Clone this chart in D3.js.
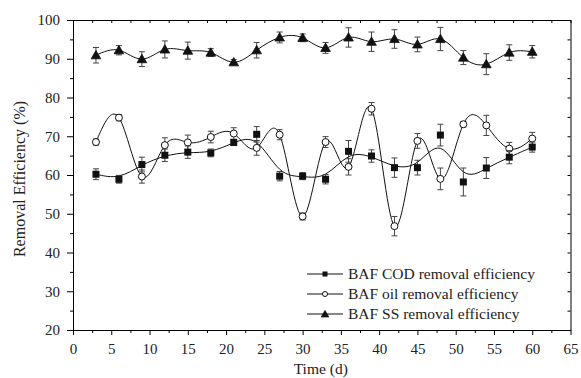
<!DOCTYPE html>
<html>
<head>
  <meta charset="UTF-8">
  <title>BAF removal efficiency</title>
  <script src="https://d3js.org/d3.v7.min.js"></script>
  <style>
    body { margin: 0; background: #fff; }
    svg text, .axis { font-family: "Liberation Serif", "Times New Roman", serif; }
    .axis path, .axis line { stroke: #000; stroke-width: 1; }
    .axis text { font-size: 15px; fill: #222; }
    .curve { fill: none; stroke: #111; stroke-width: 1; }
    .err { stroke: #444; stroke-width: 1; }
  </style>
</head>
<body>
  <div id="chart"></div>
  <script>
    const days = [3, 6, 9, 12, 15, 18, 21, 24, 27, 30, 33, 36, 39, 42, 45, 48, 51, 54, 57, 60];
    const codValues = [60.2, 58.9, 62.7, 65.1, 65.9, 65.7, 68.4, 70.5, 59.7, 59.7, 58.9, 66.1, 64.9, 61.9, 61.9, 70.3, 58.2, 61.8, 64.6, 67.2];
    const codErrors = [1.4, 1.0, 1.9, 1.6, 1.6, 1.0, 0.8, 2.0, 1.2, 0.9, 1.2, 2.8, 1.6, 2.5, 1.9, 2.8, 3.6, 2.7, 1.7, 1.3];
    const oilValues = [68.5, 74.8, 59.6, 67.7, 68.4, 69.8, 70.7, 67.0, 70.4, 49.3, 68.5, 62.1, 77.1, 46.8, 68.8, 59.0, 73.1, 72.8, 66.8, 69.4];
    const oilErrors = [0.8, 0.8, 1.7, 1.9, 1.9, 1.5, 1.5, 1.9, 1.3, 0.9, 1.4, 2.1, 1.6, 2.5, 1.9, 2.8, 0.7, 2.6, 1.6, 1.6];
    const ssValues = [90.9, 92.2, 89.9, 92.4, 92.1, 91.6, 89.1, 92.2, 95.5, 95.4, 92.8, 95.5, 94.4, 95.1, 93.7, 95.1, 90.3, 88.6, 91.6, 91.8];
    const ssErrors = [2.0, 1.2, 1.9, 2.2, 2.2, 1.0, 0.7, 2.0, 1.4, 1.0, 1.4, 2.5, 2.5, 2.4, 1.9, 3.0, 1.8, 2.7, 2.0, 1.6];
    const legendLabels = ["BAF COD removal efficiency", "BAF oil removal efficiency", "BAF SS removal efficiency"];

    const W = 581, H = 378;
    const plotLeft = 73, plotRight = 570.5, plotTop = 20, plotBottom = 330;

    const x = d3.scaleLinear().domain([0, 65]).range([plotLeft, plotRight]);
    const y = d3.scaleLinear().domain([20, 100]).range([plotBottom, plotTop]);

    const svg = d3.select("#chart").append("svg")
      .attr("width", W).attr("height", H);

    const series = [
      { name: legendLabels[1], values: oilValues, errors: oilErrors, marker: "circle", curve: d3.curveNatural },
      { name: legendLabels[0], values: codValues, errors: codErrors, marker: "square", curve: d3.curveBasis },
      { name: legendLabels[2], values: ssValues, errors: ssErrors, marker: "triangle", curve: d3.curveNatural }
    ];

    // axes: major + minor ticks, outward on left/bottom, inward on top/right
    const xMajor = d3.range(0, 66, 5), xMinor = d3.range(2.5, 65, 5);
    const yMajor = d3.range(20, 101, 10), yMinor = d3.range(25, 100, 10);

    svg.append("g").attr("class", "axis")
      .attr("transform", `translate(0,${plotBottom})`)
      .call(d3.axisBottom(x).tickValues(xMinor).tickSize(3).tickFormat("").tickSizeOuter(0));
    svg.append("g").attr("class", "axis")
      .attr("transform", `translate(0,${plotBottom})`)
      .call(d3.axisBottom(x).tickValues(xMajor).tickSize(5).tickPadding(8).tickSizeOuter(0));

    svg.append("g").attr("class", "axis")
      .attr("transform", `translate(${plotLeft},0)`)
      .call(d3.axisLeft(y).tickValues(yMinor).tickSize(3).tickFormat("").tickSizeOuter(0));
    svg.append("g").attr("class", "axis")
      .attr("transform", `translate(${plotLeft},0)`)
      .call(d3.axisLeft(y).tickValues(yMajor).tickSize(6).tickPadding(7).tickSizeOuter(0));

    svg.append("g").attr("class", "axis")
      .attr("transform", `translate(0,${plotTop})`)
      .call(d3.axisTop(x).tickValues(xMajor.concat(xMinor)).tickSize(-3).tickFormat("").tickSizeOuter(0));
    svg.append("g").attr("class", "axis")
      .attr("transform", `translate(${plotRight},0)`)
      .call(d3.axisRight(y).tickValues(yMajor.concat(yMinor)).tickSize(-3).tickFormat("").tickSizeOuter(0));

    // axis titles
    svg.append("text")
      .attr("x", (plotLeft + plotRight) / 2 - 1).attr("y", 374)
      .attr("text-anchor", "middle")
      .style("font-size", "15.5px").attr("fill", "#222")
      .text("Time (d)");
    svg.append("text")
      .attr("transform", `translate(25,${(plotTop + plotBottom) / 2 + 4}) rotate(-90)`)
      .attr("text-anchor", "middle")
      .style("font-size", "16px").attr("fill", "#222")
      .text("Removal Efficiency (%)");

    const drawMarker = (g, type, size) => {
      if (type === "square") {
        g.append("rect").attr("x", -size / 2).attr("y", -size / 2)
          .attr("width", size).attr("height", size).attr("fill", "#111");
      } else if (type === "circle") {
        g.append("circle").attr("r", size / 2).attr("fill", "#fff")
          .attr("stroke", "#111").attr("stroke-width", 1);
      } else {
        const s = d3.symbol().type(d3.symbolTriangle).size(size * size * 0.5);
        g.append("path").attr("d", s()).attr("transform", "translate(0,0.8)")
          .attr("fill", "#111").attr("stroke", "#111").attr("stroke-width", 0.8);
      }
    };

    // curves
    series.forEach(s => {
      const line = d3.line().x((d, i) => x(days[i])).y(d => y(d)).curve(s.curve);
      svg.append("path").attr("class", "curve").attr("d", line(s.values));
    });

    // error bars and markers
    series.forEach(s => {
      const g = svg.append("g");
      days.forEach((day, i) => {
        const cx = x(day), hi = y(s.values[i] + s.errors[i]), lo = y(s.values[i] - s.errors[i]);
        g.append("line").attr("class", "err").attr("x1", cx).attr("x2", cx).attr("y1", hi).attr("y2", lo);
        g.append("line").attr("class", "err").attr("x1", cx - 3).attr("x2", cx + 3).attr("y1", hi).attr("y2", hi);
        g.append("line").attr("class", "err").attr("x1", cx - 3).attr("x2", cx + 3).attr("y1", lo).attr("y2", lo);
      });
      days.forEach((day, i) => {
        const m = g.append("g").attr("transform", `translate(${x(day)},${y(s.values[i])})`);
        drawMarker(m, s.marker, s.marker === "triangle" ? 9 : 7);
      });
    });

    // legend
    const legendRows = [
      { label: legendLabels[0], marker: "square" },
      { label: legendLabels[1], marker: "circle" },
      { label: legendLabels[2], marker: "triangle" }
    ];
    const legend = svg.append("g");
    legendRows.forEach((r, i) => {
      const ly = 274 + i * 20;
      legend.append("line").attr("x1", 307).attr("x2", 343).attr("y1", ly).attr("y2", ly)
        .attr("stroke", "#111").attr("stroke-width", 1);
      const m = legend.append("g").attr("transform", `translate(325,${ly})`);
      drawMarker(m, r.marker, r.marker === "triangle" ? 7 : 5);
      legend.append("text").attr("x", 348).attr("y", ly + 5)
        .style("font-size", "15.5px").attr("fill", "#222")
        .text(r.label);
    });
  </script>
</body>
</html>
